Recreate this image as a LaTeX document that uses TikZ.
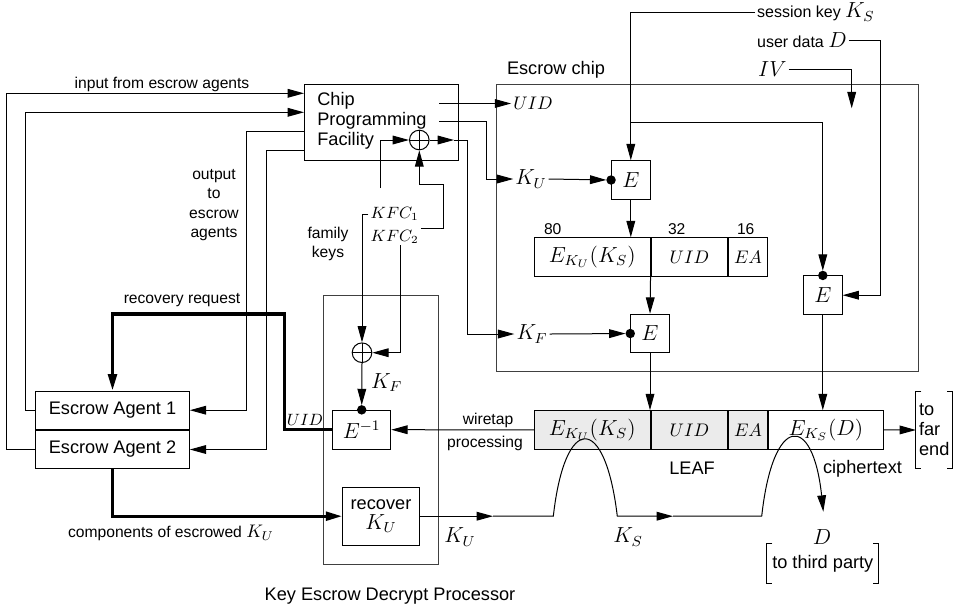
\documentclass[tikz,border=0pt]{standalone}
\usepackage[no-math]{fontspec}
\setmainfont{Liberation Sans}
\usepackage{amsmath}
\usetikzlibrary{arrows.meta,positioning,fit,calc}
\newcommand\px{0.55pt}
\newcommand\boxfont{\fontsize{10}{11}\selectfont}
\newcommand\labelfont{\fontsize{8.6}{10.6}\selectfont}
\newcommand\keyfont{\fontsize{8.8}{10.6}\selectfont}
\newcommand\mbig{\fontsize{11.5}{13}\selectfont}
\newcommand\bracketnode[1]{%
  \draw[wire] ([xshift=3pt]#1.north west) -- (#1.north west) -- (#1.south west) -- ++(3pt,0);
  \draw[wire] ([xshift=-3pt]#1.north east) -- (#1.north east) -- (#1.south east) -- ++(-3pt,0);}
\tikzset{
  wire/.style={line width=0.55pt},
  arrow/.style={wire,-{Triangle[length=9pt,width=4.8pt]}},
  todot/.style={arrow,shorten >=2.6pt},
  heavy/.style={line width=1.7pt},
  heavyarrow/.style={heavy,-{Triangle[length=9pt,width=4.8pt]}},
  box/.style={draw,wire,inner sep=0pt,font=\boxfont,align=center},
  ebox/.style={box,minimum size=38.5*\px,font=\mbig},
  cell/.style={box,minimum height=38.3*\px},
  graycell/.style={cell,fill=black!8},
  region/.style={draw=black!75,wire,inner sep=0pt},
  xorc/.style={draw,wire,circle,minimum size=19.6*\px,inner sep=0pt,
    path picture={\draw[wire] (path picture bounding box.north) -- (path picture bounding box.south)
      (path picture bounding box.west) -- (path picture bounding box.east);}},
  lbl/.style={font=\labelfont,inner sep=1pt,align=center},
  textlbl/.style={font=\boxfont,inner sep=1pt,align=center},
  mathlbl/.style={font=\mbig,inner sep=1pt,align=center},
  keylabel/.style={font=\keyfont,inner sep=1pt,anchor=west}
}
\begin{document}
\begin{tikzpicture}[x=\px,y=-\px]
  \useasboundingbox (0,0) rectangle (959,611);

  % containers
  \node[region,fit={(496.7,84) (918.3,371.7)}] (chip) {};
  \node[textlbl] (chiplbl) at (556,70) {Escrow chip};
  \node[region,fit={(323.5,295.3) (438.5,564)}] (kedp) {};
  \node[textlbl] (kedplbl) at (390,596) {Key Escrow Decrypt Processor};

  % chip programming facility
  \node[box,fit={(304,84) (458,160)}] (cpf) {};
  \node[anchor=north west,align=left,font=\boxfont,inner sep=0pt] (cpftext) at (317,92)
    {Chip\\Programming\\Facility};
  \node[xorc] (xa) at (419.3,140) {};
  \coordinate (in1) at (304,93.3);
  \coordinate (in2) at (304,112.3);
  \coordinate (out1) at (304,131.7);
  \coordinate (out2) at (304,150.7);
  \coordinate (cpfuid) at (439.3,103.5);
  \coordinate (cpfku) at (439.3,121.7);
  \coordinate (xaout) at (454,140);

  % escrow agents
  \node[box,minimum width=153.6*\px,minimum height=38.3*\px] (ea1) at (112.5,410.2) {Escrow Agent 1};
  \node[box,minimum width=153.6*\px,minimum height=38.3*\px,below=0pt of ea1] (ea2) {Escrow Agent 2};

  \draw[arrow] (ea2.west) -- ++(-29,0) |- (in1);
  \draw[arrow] (ea1.west) -- ++(-9.7,0) |- (in2);
  \draw[arrow] (out1) -- ++(-57.3,0) |- (ea1.east);
  \draw[arrow] (out2) -- ++(-38,0) |- (ea2.east);
  \node[lbl] (inlbl) at (162,84) {input from escrow agents};
  \node[lbl] (outlbl) at (214,205) {output\\to\\escrow\\agents};

  % family keys
  \node[lbl] (kfc1) at (394.7,214) {$KFC_1$};
  \node[lbl] (kfc2) at (394.7,236.7) {$KFC_2$};
  \node[lbl] (famlbl) at (328,244) {family\\keys};
  \coordinate (kfc1top) at (380,188);
  \draw[arrow] (kfc1top) |- (xa.west);
  \draw[arrow] (kfc2.north east) -| (443.3,184.3) -| (xa.south);

  % key escrow decrypt processor
  \node[xorc] (xb) at (362,352.7) {};
  \node[box,minimum width=58*\px,minimum height=38.7*\px,font=\mbig] (einv) at (361.7,429.7) {$E^{-1}$};
  \node[box,minimum width=76.6*\px,minimum height=57.7*\px] (rec) at (381,516.2) {recover\\{\mbig$K_U$}};
  \node[mathlbl] (kfk) at (386.7,382.7) {$K_F$};
  \draw[arrow] (kfc1.west) -| (xb.north);
  \draw[arrow] ([xshift=3.3pt]kfc2.south) |- (xb.east);
  \draw[todot] (xb.south) -- (einv.north);
  \fill (einv.north) circle (2.6pt);

  % recovery request and components
  \draw[heavyarrow] (einv.west) -| ++(-47.4,-115.7) -| (ea1.north);
  \node[lbl] (reqlbl) at (182,300) {recovery request};
  \node[lbl] (uidreq) at (305,420) {$UID$};
  \draw[heavyarrow] (ea2.south) |- (rec.west);
  \node[lbl] (complbl) at (171,533) {components of escrowed {\fontsize{10}{11}\selectfont$K_U$}};

  % escrow chip contents
  \node[textlbl] (uidc) at (533,103.5) {$UID$};
  \node[mathlbl] (kuc) at (531,179) {$K_U$};
  \node[mathlbl] (kfc) at (532,334) {$K_F$};
  \draw[arrow] (cpfuid) -- (cpfuid -| uidc.west);
  \draw[arrow] (cpfku) -- ++(47.4,0) |- (kuc.west);
  \draw[arrow] (xa.east) -- (xaout);
  \draw[arrow] (xaout) -- ++(13.3,0) |- (kfc.west);

  \node[ebox] (e1) at (630.8,180) {$E$};
  \node[ebox] (e2) at (650,333.5) {$E$};
  \node[ebox] (e3) at (822.8,295.2) {$E$};

  \node[cell,minimum width=115.7*\px,font=\mbig] (la) at (592.2,256.9) {$E_{K_U}(K_S)$};
  \node[cell,minimum width=76.7*\px,right=0pt of la] (lb) {$UID$};
  \node[cell,minimum width=38.6*\px,right=0pt of lb] (lc) {$EA$};
  \node[lbl] (n80) at (552.7,229) {80};
  \node[lbl] (n32) at (676.7,229) {32};
  \node[lbl] (n16) at (745.7,229) {16};

  \node[keylabel] (ks) at (755,12) {session key {\mbig$K_S$}};
  \node[keylabel] (ud) at (755,40) {user data {\mbig$D$}};
  \node[keylabel] (iv) at (756,69.3) {{\mbig$IV$}};
  \coordinate (ksb) at (630.8,122.3);
  \coordinate (dcol) at (880,0);
  \coordinate (ivend) at (851.7,108.3);

  \draw[arrow] (ks.west) -| (e1.north);
  \draw[todot] (ksb) -| (e3.north);
  \draw[arrow] (ud.east) -- (ud.east -| dcol) |- (e3.east);
  \draw[arrow] (iv.east) -| (ivend);
  \draw[todot] (kuc.east) -- (e1.west);
  \draw[todot] (kfc.east) -- (e2.west);
  \draw[arrow] (e1.south) -- (e1.south |- la.north);
  \draw[arrow] (la.south east) -- (e2.north);
  \fill (e1.west) circle (2.6pt);
  \fill (e2.west) circle (2.6pt);
  \fill (e3.north) circle (2.6pt);

  % LEAF and ciphertext on the line
  \node[graycell,minimum width=115.7*\px,font=\mbig] (ka) at (592.2,429.85) {$E_{K_U}(K_S)$};
  \node[graycell,minimum width=76.7*\px,right=0pt of ka] (kb) {$UID$};
  \node[graycell,minimum width=38.6*\px,right=0pt of kb] (kc) {$EA$};
  \node[cell,minimum width=115*\px,right=0pt of kc,font=\mbig] (kd) {$E_{K_S}(D)$};
  \node[textlbl] (leaflbl) at (692,468.3) {LEAF};
  \node[textlbl] (ciphlbl) at (862.5,468.3) {ciphertext};
  \draw[arrow] (e2.south) -- (e2.south |- ka.north);
  \draw[arrow] (e3.south) -- (e3.south |- kd.north);

  \node[font=\boxfont,align=left,inner xsep=1.5pt,minimum height=76.6*\px,
    text depth=0pt] (far) at (934.2,430) {\fontsize{10}{13.2}\selectfont to\\far\\end};
  \bracketnode{far}
  \draw[arrow] (kd.east) -- (far.west);

  \draw[arrow] (ka.west) -- (einv.east);
  \node[lbl] (wtlbl) at (488,420) {wiretap};
  \node[lbl] (prlbl) at (485,443.3) {processing};

  % recovered keys
  \node[mathlbl] (kulbl) at (460,537) {$K_U$};
  \node[mathlbl] (kslbl) at (628,537) {$K_S$};
  \node[mathlbl] (dlbl) at (822,537) {$D$};
  \node[font=\boxfont,inner xsep=2.8pt,minimum height=38.7*\px] (third) at (822.8,563.3) {to third party};
  \bracketnode{third}
  \coordinate (kutip) at (493,516.2);
  \coordinate (kstip) at (673,516.2);
  \coordinate (dtip) at (823.3,511.7);
  \draw[arrow] (rec.east) -- (kutip);
  \draw[arrow] (kutip) -- (553.3,516.2) .. controls (565,413) and (605,413) .. (617.3,516.2) -- (kstip);
  \draw[arrow] (kstip) -- (761.7,516.2) .. controls (773,413) and (813,413) .. (dtip);
\end{tikzpicture}
\end{document}
